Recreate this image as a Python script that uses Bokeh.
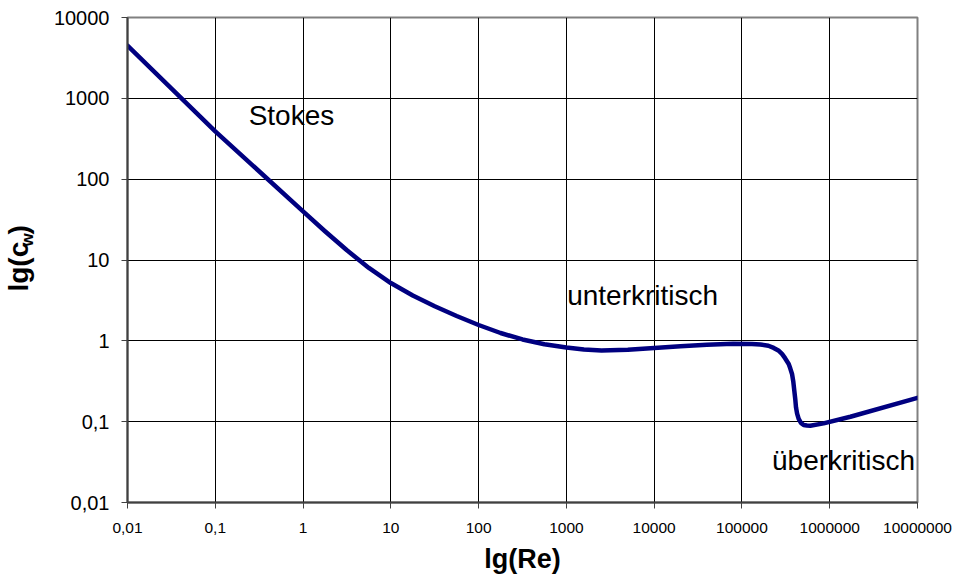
import math
from bokeh.plotting import figure
from bokeh.layouts import row
from bokeh.models import FixedTicker, CustomJSTickFormatter, Label, ColumnDataSource
from bokeh.core.properties import value
from bokeh.embed import file_html
from bokeh.resources import INLINE

# Reynolds number and drag coefficient
re_values = [0.01, 0.1, 1, 1.778, 3.162, 5.623, 10, 17.78, 31.62, 56.23, 100,
             177.8, 316.2, 562.3, 1000, 1585, 2512, 5012, 10000, 19950, 39810,
             79430, 130000, 162000, 200000, 230000, 260000, 286000, 310000,
             341000, 355000, 372000, 385000, 395000, 405000, 413000, 425000,
             443000, 470000, 505000, 550000, 600000, 850000, 1720000, 10000000]
cw_values = [4500, 390, 40, 22.7, 13.18, 7.98, 5.19, 3.63, 2.676, 2.03, 1.57,
             1.25, 1.04, 0.908, 0.828, 0.78, 0.759, 0.776, 0.817, 0.855, 0.897,
             0.92, 0.915, 0.90, 0.87, 0.817, 0.76, 0.689, 0.61,
             0.518, 0.457, 0.389, 0.31, 0.242, 0.19, 0.150, 0.126,
             0.108, 0.0966, 0.091, 0.0895, 0.089, 0.0953, 0.115, 0.197]

x_ticks = [0.01, 0.1, 1, 10, 100, 1000, 10000, 100000, 1000000, 10000000]
y_ticks = [0.01, 0.1, 1, 10, 100, 1000, 10000]

region_labels = ["Stokes", "unterkritisch", "überkritisch"]

FONT = "Liberation Sans"
H = 580
YLAB_W = 45

p = figure(width=953 - YLAB_W, height=H, x_axis_type="log", y_axis_type="log",
           x_range=(0.01, 1e7), y_range=(0.01, 1e4),
           output_backend="svg", toolbar_location=None,
           min_border_left=127 - YLAB_W, min_border_right=36,
           min_border_top=17, min_border_bottom=78)

p.background_fill_color = "white"
p.border_fill_color = "white"
p.outline_line_color = "#808080"
p.outline_line_width = 2

fmt = CustomJSTickFormatter(code="""
    if (tick < 1) { return tick.toString().replace('.', ','); }
    return tick.toFixed(0);
""")

p.xaxis.ticker = FixedTicker(ticks=x_ticks)
p.yaxis.ticker = FixedTicker(ticks=y_ticks)
p.xaxis.formatter = fmt
p.yaxis.formatter = fmt

for ax in (p.xaxis, p.yaxis):
    ax.axis_line_color = "#404040"
    ax.axis_line_width = 2
    ax.major_tick_line_color = "#404040"
    ax.major_tick_line_width = 1
    ax.major_tick_out = 6
    ax.major_tick_in = 0
    ax.minor_tick_line_color = None
    ax.major_label_text_font = FONT
    ax.major_label_text_color = "black"

p.xaxis.major_label_text_font_size = "15.5px"
p.yaxis.major_label_text_font_size = "20px"
p.yaxis.major_label_standoff = 12
p.xaxis.major_label_standoff = 14

p.xaxis.axis_label = "lg(Re)"
p.xaxis.axis_label_text_font = FONT
p.xaxis.axis_label_text_font_size = "27px"
p.xaxis.axis_label_text_font_style = "bold"
p.xaxis.axis_label_text_color = "black"
p.xaxis.axis_label_standoff = 8

p.grid.grid_line_color = "black"
p.grid.grid_line_width = 1

src = ColumnDataSource(data=dict(re=re_values, cw=cw_values))
p.line("re", "cw", source=src, line_color="#000080", line_width=4.5,
       line_join="round", line_cap="round")

# region annotations
for txt, (lx, ly) in zip(region_labels, [(0.24, 612), (1020, 3.63), (2.2e5, 0.0329)]):
    p.add_layout(Label(x=lx, y=ly, text=txt, text_font=FONT, text_font_size="28px",
                       text_color="black", text_baseline="alphabetic", text_align="left"))

# narrow figure carrying the rotated y axis title lg(c_w); its ranges are pixels
q = figure(width=YLAB_W, height=H, x_range=(0, YLAB_W), y_range=(0, H),
           output_backend="svg", toolbar_location=None,
           x_axis_location=None, y_axis_location=None,
           min_border_left=0, min_border_right=0, min_border_top=0, min_border_bottom=0)
q.grid.visible = False
q.outline_line_color = None
q.background_fill_color = "white"
q.border_fill_color = "white"

# (text, size, centre x, centre y measured from the top)
ylab_parts = [("lg(c", "28px", 18, 298), ("w", "17px", 27, 266), (")", "28px", 18, 254)]
for txt, fs, cx, cy in ylab_parts:
    q.text(x=[cx], y=[H - cy], text=[txt], angle=math.pi / 2,
           text_font=value(FONT), text_font_size=fs, text_font_style="bold",
           text_color="black", text_baseline="middle", text_align="center")

layout = row(q, p, spacing=0)
open("out.html", "w").write(file_html(layout, INLINE))
